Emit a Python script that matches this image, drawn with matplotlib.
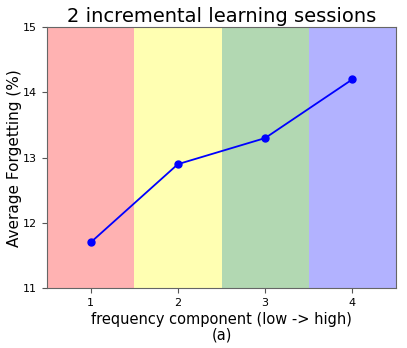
import matplotlib
matplotlib.use("Agg")
import matplotlib.pyplot as plt

components = [1, 2, 3, 4]
forgetting = [11.7, 12.9, 13.3, 14.2]
band_colors = ["red", "yellow", "green", "blue"]
title = "2 incremental learning sessions"
xlabel = "frequency component (low -> high)\n(a)"
ylabel = "Average Forgetting (%)"

fig = plt.figure(figsize=(4.07, 3.48), dpi=100)
ax = fig.add_axes([0.1155, 0.172, 0.8575, 0.75])
for c, col in zip(components, band_colors):
    ax.axvspan(c - 0.5, c + 0.5, color=col, alpha=0.3, lw=0)
ax.plot(components, forgetting, color="blue", marker="o", markersize=5, lw=1.3)
ax.set_xlim(0.5, 4.5)
ax.set_ylim(11, 15)
ax.set_xticks(components)
ax.set_yticks([11, 12, 13, 14, 15])
ax.tick_params(labelsize=8, color="#555555")
for s in ax.spines.values():
    s.set_color("#666666")
ax.set_title(title, fontsize=14, pad=4)
ax.set_xlabel(xlabel, fontsize=10.5, labelpad=3, linespacing=1.05)
ax.set_ylabel(ylabel, fontsize=11, labelpad=1)
fig.savefig("out.png", dpi=100)
